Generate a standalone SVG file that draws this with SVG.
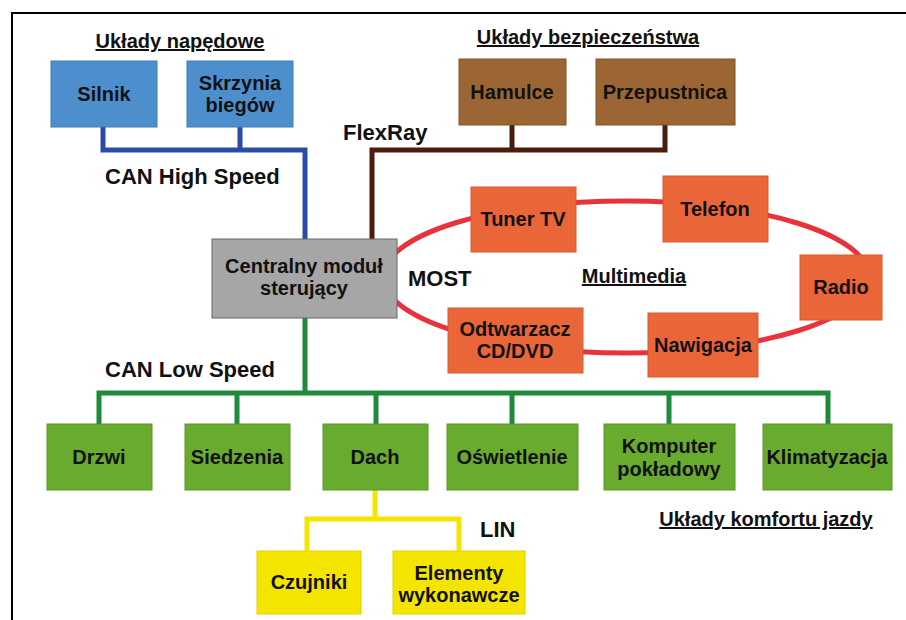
<svg xmlns="http://www.w3.org/2000/svg" width="906" height="620" viewBox="0 0 906 620">
<style>
text{font-family:"Liberation Sans",Arial,sans-serif;font-weight:bold;fill:#111;}
.lbl{font-size:20px;text-anchor:middle;}
.bus{font-size:22px;}
.ttl{font-size:20px;text-anchor:middle;text-decoration:underline;}
.blue{fill:#4d8fcd;stroke:#3f7db8;stroke-width:1;}
.brown{fill:#9b6633;stroke:#7f5227;stroke-width:1;}
.orange{fill:#ea6638;stroke:#d85a2f;stroke-width:1;}
.gray{fill:#a6a6a6;stroke:#666;stroke-width:1;}
.green{fill:#69ab2e;stroke:#5a9627;stroke-width:1;}
.yellow{fill:#f3e500;stroke:#e0d300;stroke-width:1;}
.ln{fill:none;stroke-width:5;stroke-linejoin:miter;}
</style>
<rect width="906" height="620" fill="#fff"/>
<path d="M12 620 V13 H906" fill="none" stroke="#000" stroke-width="2"/>
<g id="connectors">
<path class="ln" stroke="#2b4ba8" d="M103 127 V150 H305 V239 M240 127 V150"/>
<path class="ln" stroke="#4b1d0d" d="M372 239 V150 H665 V125 M512 125 V150"/>
<ellipse class="ln" stroke="#e8333c" cx="626" cy="277" rx="243" ry="76"/>
<path class="ln" stroke="#1f8a3a" d="M305 318 V393 M99 424 V393 H828 V424 M237 393 V424 M376 393 V424 M512 393 V424 M669 393 V424"/>
<path class="ln" stroke="#f3e500" d="M375 490 V519 M307 551 V519 H459 V551"/>
</g>
<g id="labels">
<text class="ttl" x="180" y="48">Układy napędowe</text>
<text class="ttl" x="588" y="44">Układy bezpieczeństwa</text>
<text class="ttl" x="634" y="283">Multimedia</text>
<text class="ttl" x="766" y="526">Układy komfortu jazdy</text>
<text class="bus" x="105" y="184">CAN High Speed</text>
<text class="bus" x="343" y="140">FlexRay</text>
<text class="bus" x="408" y="286">MOST</text>
<text class="bus" x="105" y="377">CAN Low Speed</text>
<text class="bus" x="480" y="537">LIN</text>
</g>
<g id="silnik"><rect class="blue" x="51" y="61" width="106" height="66"/><text class="lbl" x="104" y="101">Silnik</text></g>
<g id="skrzynia"><rect class="blue" x="187" y="61" width="106" height="66"/><text class="lbl" x="240" y="90">Skrzynia</text><text class="lbl" x="240" y="112">biegów</text></g>
<g id="hamulce"><rect class="brown" x="459" y="59" width="107" height="66"/><text class="lbl" x="512" y="99">Hamulce</text></g>
<g id="przepustnica"><rect class="brown" x="596" y="59" width="139" height="66"/><text class="lbl" x="665" y="99">Przepustnica</text></g>
<g id="centralny"><rect class="gray" x="212" y="239" width="185" height="79"/><text class="lbl" x="304" y="273">Centralny moduł</text><text class="lbl" x="304" y="295">sterujący</text></g>
<g id="tuner"><rect class="orange" x="471" y="187" width="105" height="65"/><text class="lbl" x="523" y="226">Tuner TV</text></g>
<g id="telefon"><rect class="orange" x="663" y="176" width="105" height="66"/><text class="lbl" x="715" y="216">Telefon</text></g>
<g id="radio"><rect class="orange" x="800" y="255" width="82" height="65"/><text class="lbl" x="841" y="294">Radio</text></g>
<g id="nawigacja"><rect class="orange" x="648" y="313" width="110" height="64"/><text class="lbl" x="703" y="352">Nawigacja</text></g>
<g id="odtwarzacz"><rect class="orange" x="448" y="308" width="135" height="65"/><text class="lbl" x="515" y="336">Odtwarzacz</text><text class="lbl" x="515" y="358">CD/DVD</text></g>
<g id="drzwi"><rect class="green" x="47" y="424" width="105" height="66"/><text class="lbl" x="99" y="464">Drzwi</text></g>
<g id="siedzenia"><rect class="green" x="185" y="424" width="105" height="66"/><text class="lbl" x="237" y="464">Siedzenia</text></g>
<g id="dach"><rect class="green" x="323" y="424" width="105" height="66"/><text class="lbl" x="375" y="464">Dach</text></g>
<g id="oswietlenie"><rect class="green" x="447" y="424" width="131" height="66"/><text class="lbl" x="512" y="464">Oświetlenie</text></g>
<g id="komputer"><rect class="green" x="604" y="424" width="131" height="66"/><text class="lbl" x="669" y="453">Komputer</text><text class="lbl" x="669" y="476">pokładowy</text></g>
<g id="klimatyzacja"><rect class="green" x="763" y="424" width="129" height="66"/><text class="lbl" x="827" y="464">Klimatyzacja</text></g>
<g id="czujniki"><rect class="yellow" x="257" y="551" width="104" height="63"/><text class="lbl" x="309" y="589">Czujniki</text></g>
<g id="elementy"><rect class="yellow" x="393" y="551" width="132" height="63"/><text class="lbl" x="459" y="580">Elementy</text><text class="lbl" x="459" y="602">wykonawcze</text></g>
</svg>
